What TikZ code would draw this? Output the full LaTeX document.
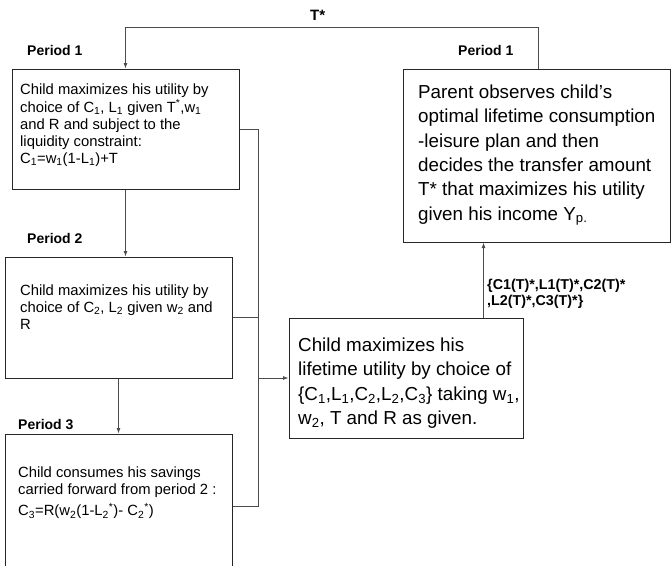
\documentclass[tikz,border=0pt]{standalone}
\usepackage{fontspec}
\setmainfont{Liberation Sans}
\usetikzlibrary{arrows.meta,calc}
\newcommand{\sbs}[1]{\textsubscript{#1}}
\newcommand{\sps}[1]{\textsuperscript{#1}}
\begin{document}
\begin{tikzpicture}[x=1pt,y=-1pt,
  box/.style={draw=black!85, line width=1pt, inner sep=0pt},
  conn/.style={draw=black!70, line width=0.9pt},
  arr/.style={-{Latex[length=5.5pt,width=4pt]}},
  smalltext/.style={anchor=north west, inner sep=0pt, align=left, font=\fontsize{14.8}{17.2}\selectfont},
  bigtext/.style={anchor=north west, inner sep=0pt, align=left, font=\fontsize{18.8}{24.4}\selectfont},
  plabel/.style={anchor=base west, inner sep=0pt, font=\fontsize{14}{16}\selectfont\bfseries},
  annot/.style={anchor=north west, inner sep=0pt, align=left, font=\fontsize{14.3}{16.5}\selectfont\bfseries}
]
\useasboundingbox (0,0) rectangle (671,565);

% boxes
\node[box, minimum width=227pt, minimum height=120pt] (box1) at (125.5,129) {};
\node[box, minimum width=227pt, minimum height=121pt] (box2) at (118.5,317.5) {};
\node[box, minimum width=227pt, minimum height=144pt] (box3) at (118.5,506) {};
\node[box, minimum width=267pt, minimum height=173pt] (parent) at (536.5,155.5) {};
\node[box, minimum width=234pt, minimum height=120pt] (life) at (406,378) {};

% texts
\node[smalltext] (t1) at (20,84) {Child maximizes his utility by\\choice of C\sbs{1}, L\sbs{1} given T\sps{*},w\sbs{1}\\and R and subject to the\\liquidity constraint:\\C\sbs{1}=w\sbs{1}(1-L\sbs{1})+T};
\node[smalltext] (t2) at (20,284.4) {Child maximizes his utility by\\choice of C\sbs{2}, L\sbs{2} given w\sbs{2} and\\R};
\node[smalltext] (t3) at (18,466.4) {Child consumes his savings\\carried forward from period 2 :\\[4pt]C\sbs{3}=R(w\sbs{2}(1-L\sbs{2}\sps{*})- C\sbs{2}\sps{*})};
\node[bigtext] (tp) at (418,84.5) {Parent observes child’s\\optimal lifetime consumption\\-leisure plan and then\\decides the transfer amount\\T* that maximizes his utility\\given his income Y\sbs{p.}};
\node[bigtext] (tl) at (298,337.5) {Child maximizes his\\lifetime utility by choice of\\\{C\sbs{1},L\sbs{1},C\sbs{2},L\sbs{2},C\sbs{3}\} taking w\sbs{1},\\w\sbs{2}, T and R as given.};

% labels
\node[plabel] (p1) at (27,55) {Period 1};
\node[plabel] (p2) at (27,243) {Period 2};
\node[plabel] (p3) at (18,429) {Period 3};
\node[plabel] (p1r) at (458,55) {Period 1};
\node[plabel, font=\fontsize{15}{17}\selectfont\bfseries] (tstar) at (310,20) {T*};
\node[annot] (an) at (487,278.5) {\{C1(T)*,L1(T)*,C2(T)*\\,L2(T)*,C3(T)*\}};

% connectors
\coordinate (pA) at ($(parent.north west)+(136,0)$);
\coordinate (tr) at (258,0);
\coordinate (lA) at ($(life.north west)+(195,0)$);
\draw[conn,arr] (pA) -- ++(0,-41) -| (box1.north);
\draw[conn,arr] (box1.south) -- (box1.south |- box2.north);
\draw[conn,arr] (box2.south) -- (box3.north);
\draw[conn] (box1.east) -| (tr |- box3.east) -- (box3.east);
\draw[conn] (box2.east) -- (box2.east -| tr);
\draw[conn,arr] (life.west -| tr) -- (life.west);
\draw[conn,arr] (lA) -- (lA |- parent.south);
\end{tikzpicture}
\end{document}
